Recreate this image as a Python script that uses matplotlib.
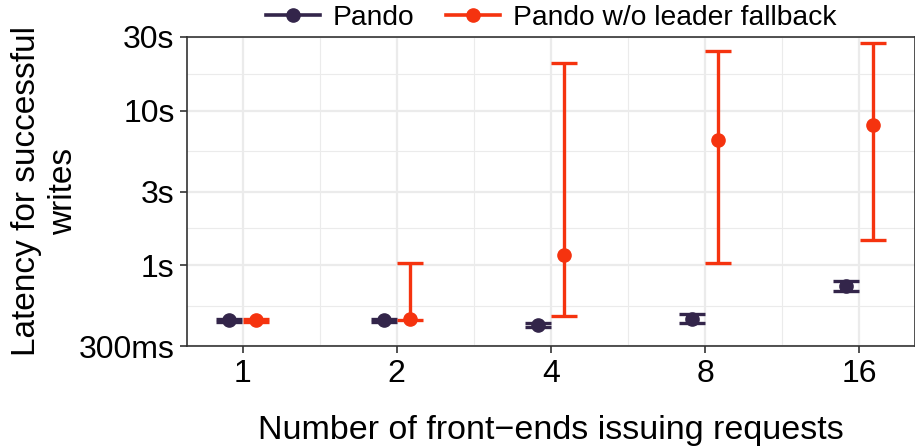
import matplotlib
matplotlib.use("Agg")
import matplotlib.pyplot as plt
from matplotlib.ticker import FixedLocator
from matplotlib.lines import Line2D
import numpy as np

plt.rcParams['font.family'] = ['Liberation Sans', 'DejaVu Sans']

frontends = ["1", "2", "4", "8", "16"]

# latency in seconds: centre, low, high
pando_mid = [0.44, 0.44, 0.41, 0.448, 0.73]
pando_lo = [0.43, 0.43, 0.40, 0.42, 0.68]
pando_hi = [0.45, 0.45, 0.42, 0.48, 0.795]

nofb_mid = [0.44, 0.448, 1.17, 6.5, 8.1]
nofb_lo = [0.43, 0.44, 0.466, 1.03, 1.46]
nofb_hi = [0.45, 1.04, 20.5, 24.2, 27.3]

c_pando = "#33254A"
c_nofb = "#F5330F"

fig = plt.figure(figsize=(9.15, 4.46), dpi=100)
ax = fig.add_axes([187/915, 1-346/446, (915-187)/915, (346-37)/446])

x = np.arange(len(frontends))
dodge = 0.085

def draw(xs, mid, lo, hi, col):
    mid = np.array(mid); lo = np.array(lo); hi = np.array(hi)
    ax.errorbar(xs, mid, yerr=[mid-lo, hi-mid], fmt='o', color=col, ms=9.5,
                elinewidth=2.4, capsize=9.5, capthick=2.4, zorder=3)

draw(x - dodge, pando_mid, pando_lo, pando_hi, c_pando)
draw(x + dodge, nofb_mid, nofb_lo, nofb_hi, c_nofb)

ax.set_yscale('log')
ax.set_ylim(0.3, 30)
yt = [0.3, 1, 3, 10, 30]
ax.yaxis.set_major_locator(FixedLocator(yt))
ax.set_yticklabels(["300ms", "1s", "3s", "10s", "30s"])
minor_y = [np.sqrt(yt[i]*yt[i+1]) for i in range(len(yt)-1)]
ax.yaxis.set_minor_locator(FixedLocator(minor_y))
ax.yaxis.set_minor_formatter(plt.NullFormatter())

ax.set_xlim(-0.36, len(frontends) - 1 + 0.36)
ax.set_xticks(x)
ax.set_xticklabels(frontends)
ax.set_xticks(x[:-1] + 0.5, minor=True)

ax.grid(True, which='major', color='#EBEBEB', lw=1.6, zorder=0)
ax.grid(True, which='minor', color='#EBEBEB', lw=0.8, zorder=0)
ax.set_axisbelow(True)

for s in ax.spines.values():
    s.set_color('#333333')
    s.set_linewidth(1.2)
ax.tick_params(which='major', length=5, width=1.2, color='#333333',
               labelsize=23, labelcolor='black', pad=4)
ax.tick_params(which='minor', length=0)

ax.set_xlabel("Number of front\u2212ends issuing requests", fontsize=24.5, labelpad=19)
fig.text(45/915, 1-191/446, "Latency for successful\nwrites", fontsize=24,
         rotation=90, ha='center', va='center', ma='center', linespacing=1.25)

handles = [Line2D([], [], color=c_pando, lw=2.6, marker='o', ms=9.5),
           Line2D([], [], color=c_nofb, lw=2.6, marker='o', ms=9.5)]
fig.legend(handles, ["Pando", "Pando w/o leader fallback"], loc='center',
           bbox_to_anchor=(551/915, 1-18/446), ncol=2, frameon=False,
           fontsize=20.3, handlelength=1.9, columnspacing=1.15, handletextpad=0.45)

fig.savefig("out.png", dpi=100)
